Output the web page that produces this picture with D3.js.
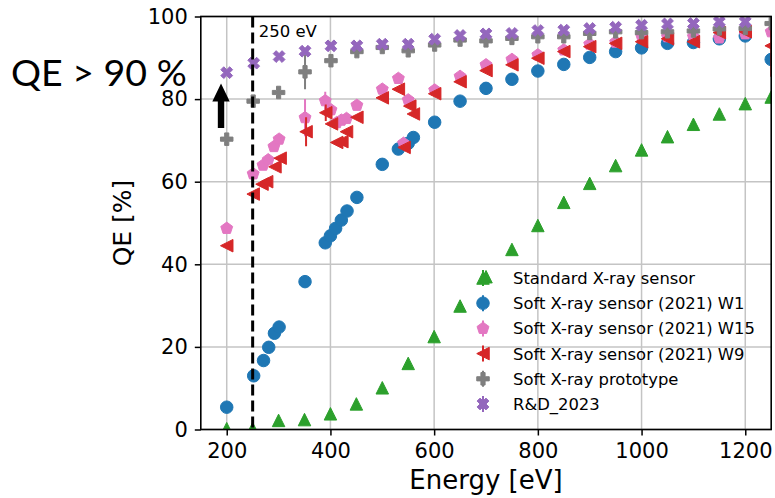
<!DOCTYPE html>
<html>
<head>
<meta charset="utf-8">
<script src="https://cdn.jsdelivr.net/npm/d3@7"></script>
<style>
  html, body { margin: 0; padding: 0; background: #fff; }
  svg { display: block; font-family: "DejaVu Sans", sans-serif; }
  text { fill: #000; }
</style>
</head>
<body>
<svg id="chart" width="775" height="498"></svg>
<script>
// Axis ticks
const xTicks = [200, 400, 600, 800, 1000, 1200];
const yTicks = [0, 20, 40, 60, 80, 100];

// Standard X-ray sensor
const standardEnergy = [200, 250, 300, 350, 400, 450, 500, 550, 600, 650, 700, 750, 800, 850, 900, 950, 1000, 1050, 1100, 1150, 1200, 1250];
const standardQE     = [0.2, 0.2, 2.2, 2.4, 3.8, 6.2, 10.1, 16.0, 22.5, 29.9, 37.0, 43.6, 49.4, 55.0, 59.6, 63.9, 67.7, 70.9, 73.9, 76.4, 78.9, 80.5];
const standardErr    = [0, 0, 0, 0, 0, 0, 0, 0, 0, 0, 0, 0, 0, 0, 0, 0, 0, 0, 0, 0, 0, 0];

// Soft X-ray sensor (2021) W1
const w1Energy = [200, 252, 271, 281, 292, 301, 351, 390, 400, 410, 421, 432, 451, 500, 531, 550, 560, 601, 650, 700, 750, 800, 850, 900, 950, 1000, 1050, 1100, 1150, 1200, 1250];
const w1QE     = [5.4, 13.0, 16.7, 19.9, 23.3, 24.8, 35.8, 45.2, 46.9, 48.7, 50.7, 52.9, 56.2, 64.2, 67.9, 69.3, 70.7, 74.4, 79.5, 82.6, 84.8, 86.8, 88.4, 90.1, 91.5, 92.4, 93.5, 93.7, 94.6, 95.3, 89.6];
const w1Err    = [0, 0, 0, 0, 0, 0, 1.3, 0, 0, 0, 0, 0, 0, 0, 0, 0, 0, 0, 0, 0, 0, 0, 0, 0, 0, 0, 0, 0, 0, 0, 0];

// Soft X-ray sensor (2021) W15
const w15Energy = [200, 251, 270, 280, 291, 301, 351, 390, 401, 412, 421, 431, 451, 500, 531, 541, 550, 601, 650, 700, 750, 800, 850, 900, 950, 1000, 1050, 1100, 1150, 1200, 1250];
const w15QE     = [48.7, 61.9, 64.0, 65.3, 68.5, 70.3, 75.5, 79.6, 77.4, 74.3, 74.9, 75.3, 78.5, 82.4, 85.0, 69.3, 79.8, 82.2, 85.5, 88.3, 89.6, 90.7, 91.9, 93.3, 93.8, 95.3, 95.1, 95.1, 94.8, 95.8, 96.3];
const w15Err    = [0, 0, 0, 0, 0, 0, 4.5, 2.2, 0, 0, 0, 0, 0, 0, 0, 0, 0, 0, 0, 0, 0, 0, 0, 0, 0, 0, 0, 0, 0, 0, 0];

// Soft X-ray sensor (2021) W9
const w9Energy = [200, 251, 268, 277, 293, 303, 353, 391, 402, 412, 422, 431, 451, 500, 531, 542, 553, 560, 601, 650, 700, 750, 800, 850, 900, 950, 1000, 1050, 1100, 1150, 1200, 1250];
const w9QE     = [44.5, 57.0, 59.4, 60.0, 63.6, 65.7, 72.1, 76.7, 74.0, 69.5, 69.7, 72.1, 75.6, 80.3, 82.4, 68.3, 78.3, 76.4, 81.3, 84.2, 86.9, 88.3, 89.9, 91.5, 92.7, 93.5, 93.9, 94.6, 93.9, 96.1, 96.3, 92.9];
const w9Err    = [0, 0, 0, 0, 0, 0, 3.5, 2.0, 0, 0, 0, 0, 0, 0, 0, 0, 0, 0, 0, 0, 0, 0, 0, 0, 0, 0, 0, 0, 0, 0, 0, 7.5];

// Soft X-ray prototype
const protoEnergy = [200, 251, 300, 351, 401, 451, 500, 550, 601, 650, 700, 750, 800, 850, 900, 950, 1000, 1050, 1100, 1150, 1200, 1250];
const protoQE     = [70.3, 79.5, 81.6, 86.6, 89.3, 91.5, 92.5, 91.7, 93.1, 94.3, 94.1, 94.7, 95.1, 95.1, 95.9, 96.3, 96.1, 96.3, 96.5, 97.0, 97.1, 98.3];
const protoErr    = [0, 0, 0, 4.2, 0, 0, 0, 0, 0, 0, 0, 0, 0, 0, 0, 0, 0, 0, 0, 0, 0, 0];

// R&D_2023
const rdEnergy = [200, 252, 301, 351, 401, 451, 500, 550, 601, 650, 700, 750, 800, 850, 900, 950, 1000, 1050, 1100, 1150, 1200];
const rdQE     = [86.4, 88.7, 90.3, 91.6, 92.9, 92.9, 93.3, 93.3, 94.5, 95.4, 95.8, 95.9, 96.6, 96.7, 97.1, 97.4, 97.9, 98.2, 98.3, 98.7, 98.7];
const rdErr    = [0, 0, 0, 0, 0, 0, 0, 0, 0, 0, 0, 0, 0, 0, 0, 0, 0, 0, 0, 0, 0];

const seriesNames  = ["Standard X-ray sensor", "Soft X-ray sensor (2021) W1", "Soft X-ray sensor (2021) W15",
                      "Soft X-ray sensor (2021) W9", "Soft X-ray prototype", "R&D_2023"];
const seriesColors = ["#2ca02c", "#1f77b4", "#e377c2", "#d62728", "#7f7f7f", "#9467bd"];
const seriesShapes = ["triangleUp", "circle", "pentagon", "triangleLeft", "plus", "cross"];

const seriesData = [
  [standardEnergy, standardQE, standardErr],
  [w1Energy, w1QE, w1Err],
  [w15Energy, w15QE, w15Err],
  [w9Energy, w9QE, w9Err],
  [protoEnergy, protoQE, protoErr],
  [rdEnergy, rdQE, rdErr]
].map(([e, q, err], i) => ({
  name: seriesNames[i],
  color: seriesColors[i],
  shape: seriesShapes[i],
  points: e.map((v, j) => ({ energy: v, qe: q[j], err: err[j] }))
}));

// ---- layout ----
const svg = d3.select("#chart");
const plot = { left: 200.8, right: 771.2, top: 16.5, bottom: 429.5 };

const x = d3.scaleLinear().domain([150, 1250]).range([plot.left, plot.right]);
const y = d3.scaleLinear().domain([0, 100]).range([plot.bottom, plot.top]);

// ---- marker shapes (size = full extent in px) ----
function markerPath(shape, s) {
  const h = s / 2;
  const poly = pts => "M" + pts.map(p => p[0].toFixed(2) + "," + p[1].toFixed(2)).join("L") + "Z";
  if (shape === "circle") {
    return d3.symbol(d3.symbolCircle, Math.PI * h * h)();
  }
  if (shape === "triangleUp") return poly([[0, -h], [h, h], [-h, h]]);
  if (shape === "triangleLeft") return poly([[-h, 0], [h, -h], [h, h]]);
  if (shape === "pentagon") {
    const pts = d3.range(5).map(k => {
      const a = -Math.PI / 2 + k * 2 * Math.PI / 5;
      return [h * Math.cos(a), h * Math.sin(a)];
    });
    return poly(pts);
  }
  const plusPts = [[-1, -3], [1, -3], [1, -1], [3, -1], [3, 1], [1, 1], [1, 3], [-1, 3], [-1, 1], [-3, 1], [-3, -1], [-1, -1]]
    .map(p => [p[0] / 6 * s, p[1] / 6 * s]);
  if (shape === "plus") return poly(plusPts);
  if (shape === "cross") {
    const c = Math.SQRT1_2;
    return poly(plusPts.map(p => [(p[0] - p[1]) * c, (p[0] + p[1]) * c]));
  }
  return "";
}
const MS = 12.5;

// ---- grid ----
const grid = svg.append("g").attr("class", "grid");
grid.selectAll("line.gx").data(xTicks).join("line")
  .attr("x1", d => x(d)).attr("x2", d => x(d))
  .attr("y1", plot.top).attr("y2", plot.bottom)
  .attr("stroke", "#c4c4c4").attr("stroke-width", 1.5);
grid.selectAll("line.gy").data(yTicks).join("line")
  .attr("x1", plot.left).attr("x2", plot.right)
  .attr("y1", d => y(d)).attr("y2", d => y(d))
  .attr("stroke", "#c4c4c4").attr("stroke-width", 1.5);

// ---- data ----
svg.append("defs").append("clipPath").attr("id", "plotClip")
  .append("rect")
  .attr("x", plot.left).attr("y", plot.top)
  .attr("width", plot.right - plot.left).attr("height", plot.bottom - plot.top);

const dataLayer = svg.append("g").attr("clip-path", "url(#plotClip)");

seriesData.forEach(s => {
  const g = dataLayer.append("g");
  g.selectAll("line.err").data(s.points.filter(p => p.err > 0)).join("line")
    .attr("x1", p => x(p.energy)).attr("x2", p => x(p.energy))
    .attr("y1", p => y(p.qe - p.err)).attr("y2", p => y(p.qe + p.err))
    .attr("stroke", s.color).attr("stroke-width", 2);
  g.selectAll("path.mk").data(s.points).join("path")
    .attr("d", markerPath(s.shape, MS))
    .attr("transform", p => `translate(${x(p.energy)},${y(p.qe)})`)
    .attr("fill", s.color).attr("stroke", s.color).attr("stroke-width", 1)
    .attr("stroke-linejoin", "miter");
});

// 250 eV reference line
svg.append("line")
  .attr("x1", x(250)).attr("x2", x(250))
  .attr("y1", plot.top).attr("y2", plot.bottom)
  .attr("stroke", "#000").attr("stroke-width", 3)
  .attr("stroke-dasharray", "11,5");
svg.append("text")
  .attr("x", x(250) + 6).attr("y", 37)
  .style("font-size", "16.5px")
  .text("250 eV");

// ---- axes ----
const xAxis = svg.append("g").attr("transform", `translate(0,${plot.bottom})`)
  .call(d3.axisBottom(x).tickValues(xTicks).tickSize(6).tickPadding(8).tickFormat(d3.format("d")));
const yAxis = svg.append("g").attr("transform", `translate(${plot.left},0)`)
  .call(d3.axisLeft(y).tickValues(yTicks).tickSize(6).tickPadding(7).tickFormat(d3.format("d")));
[xAxis, yAxis].forEach(a => {
  a.attr("font-family", null).attr("font-size", null);
  a.select(".domain").remove();
  a.selectAll(".tick line").attr("stroke", "#000").attr("stroke-width", 1.5);
  a.selectAll(".tick text").style("font-size", "21px").style("font-family", "'DejaVu Sans', sans-serif").attr("fill", "#000");
});

// frame
svg.append("rect")
  .attr("x", plot.left).attr("y", plot.top)
  .attr("width", plot.right - plot.left).attr("height", plot.bottom - plot.top)
  .attr("fill", "none").attr("stroke", "#000").attr("stroke-width", 1.6);

// axis titles
svg.append("text")
  .attr("x", (plot.left + plot.right) / 2).attr("y", 489)
  .attr("text-anchor", "middle").style("font-size", "26px")
  .text("Energy [eV]");
svg.append("text")
  .attr("transform", `translate(131,${(plot.top + plot.bottom) / 2}) rotate(-90)`)
  .attr("text-anchor", "middle").style("font-size", "25px")
  .text("QE [%]");

// ---- legend ----
const legend = svg.append("g").attr("transform", "translate(483,278)");
const rowH = 25.2;
seriesData.forEach((s, i) => {
  const row = legend.append("g").attr("transform", `translate(0,${i * rowH})`);
  row.append("line").attr("x1", 0).attr("x2", 0).attr("y1", -8).attr("y2", 8)
    .attr("stroke", s.color).attr("stroke-width", 2);
  row.append("path").attr("d", markerPath(s.shape, MS))
    .attr("fill", s.color).attr("stroke", s.color).attr("stroke-width", 1);
  row.append("text").attr("x", 30).attr("y", 0).attr("dy", "0.36em")
    .style("font-size", "16.4px").text(s.name);
});

// ---- annotation: QE > 90 % with arrow ----
svg.append("text")
  .attr("x", 11).attr("y", 86)
  .style("font-family", "Lato, 'Open Sans', sans-serif")
  .style("font-size", "37.5px")
  .text("QE > 90 %");

const ax = x(189), tipY = y(83.8), baseY = y(73);
svg.append("path")
  .attr("d", `M${ax - 3.2},${baseY} L${ax - 3.2},${tipY + 18} L${ax - 8.7},${tipY + 18} L${ax},${tipY} L${ax + 8.7},${tipY + 18} L${ax + 3.2},${tipY + 18} L${ax + 3.2},${baseY} Z`)
  .attr("fill", "#000");
</script>
</body>
</html>
